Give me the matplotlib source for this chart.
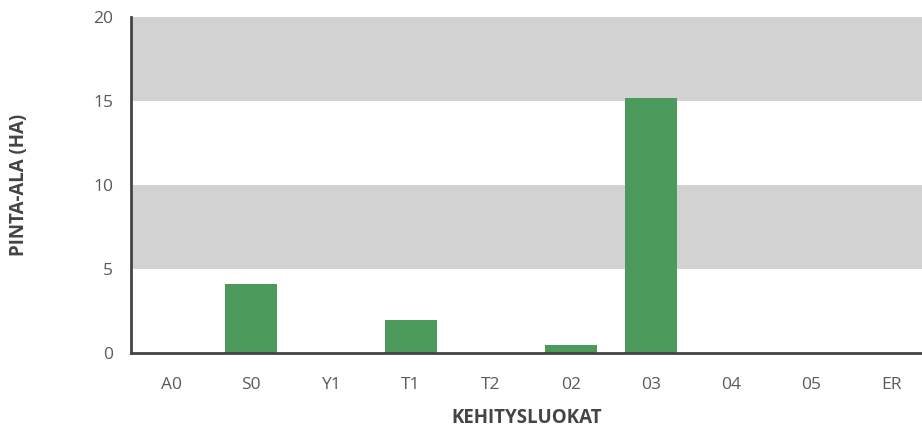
import matplotlib
matplotlib.use("Agg")
import matplotlib.pyplot as plt

categories = ["A0", "S0", "Y1", "T1", "T2", "02", "03", "04", "05", "ER"]
values = [0, 4.1, 0, 1.95, 0, 0.45, 15.2, 0, 0, 0]
yticks = [0, 5, 10, 15, 20]

plt.rcParams['font.family'] = ['Open Sans', 'DejaVu Sans']

fig = plt.figure(figsize=(9.22, 4.30), dpi=100)
W, H = 922, 430
ax = fig.add_axes([131 / W, 1 - 353 / H, (922 - 131) / W, (353 - 17) / H])

# alternating bands
ax.axhspan(5, 10, color="#d2d2d2", zorder=0, lw=0)
ax.axhspan(15, 20, color="#d2d2d2", zorder=0, lw=0)

x = list(range(len(categories)))
ax.bar(x, values, width=0.66, color="#4b9a5c", zorder=2)

ax.set_ylim(0, 20)
ax.set_xlim(-0.5, -0.5 + (922 - 131) / 80)
ax.set_yticks(yticks)
ax.set_xticks(x)
ax.set_xticklabels(categories)

for s in ["top", "right"]:
    ax.spines[s].set_visible(False)
for s in ["left", "bottom"]:
    ax.spines[s].set_color("#444444")
    ax.spines[s].set_linewidth(2)
    ax.spines[s].set_zorder(3)

ax.tick_params(axis="both", length=0, colors="#5a5a5a", labelsize=12.5)
ax.tick_params(axis="x", pad=17)
ax.tick_params(axis="y", pad=13)

ax.set_xlabel("KEHITYSLUOKAT", fontsize=13.5, fontweight="bold", color="#444444", labelpad=11)
fig.text(19 / W, 1 - 185 / H, "PINTA-ALA (HA)", rotation=90, fontsize=13.5, fontweight="bold",
         color="#444444", ha="center", va="center")

fig.savefig("out.png", dpi=100)
